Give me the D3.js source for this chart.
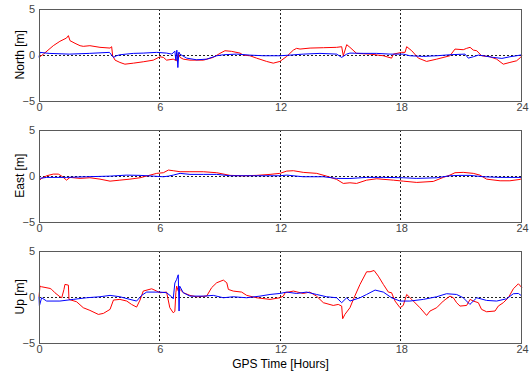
<!DOCTYPE html>
<html><head><meta charset="utf-8">
<script src="https://cdn.jsdelivr.net/npm/d3@7"></script>
<style>body{margin:0;background:#fff}svg{display:block}</style></head>
<body><svg id="c" width="529" height="372"></svg>
<script>
const panelLabels = ["North [m]", "East [m]", "Up [m]"];
const xTicks = [0, 6, 12, 18, 24];
const yTicks = [-5, 0, 5];
const xTitle = "GPS Time [Hours]";

// North
const northRedT = [0,0.22,0.71,1.04,1.37,1.46,1.54,1.79,2.04,2.2,2.53,3.03,3.53,3.61,3.66,3.78,4.02,4.27,4.69,5.18,5.68,6.01,6.18,6.34,6.67,6.84,6.92,7.01,7.17,7.5,8.17,8.66,8.99,9.24,9.57,9.99,10.15,10.48,10.81,11.31,11.64,11.97,12.31,12.64,12.8,12.97,13.47,14.13,14.79,15.04,15.12,15.29,15.45,15.78,16.45,17.11,17.52,17.61,18.02,18.19,18.27,18.52,18.85,19.26,19.76,20.42,20.67,21.08,21.25,21.42,21.58,21.75,21.99,22.41,22.74,23.07,23.4,23.73,23.93,24];
const northRedV = [-0.29,0.07,0.99,1.47,1.83,2.09,1.54,1.25,0.99,0.92,0.99,0.81,0.73,0.88,-0.11,-0.59,-0.84,-1.03,-0.92,-0.77,-0.59,-0.22,-0.29,-0.59,-0.48,-0.66,0.15,-0.29,-0.48,-0.59,-0.59,-0.29,0.15,0.44,0.37,0.18,-0.04,-0.11,-0.37,-0.73,-0.92,-0.73,-0.18,0.51,0.7,0.62,0.73,0.77,0.81,0.88,-0.11,1.1,0.81,0.15,0.07,-0.11,-0.37,0.07,0.26,0.26,0.88,0.44,-0.37,-0.73,-0.48,-0.11,0.62,0.55,0.7,0.81,0.51,0.44,-0.11,-0.22,-0.48,-1.03,-0.84,-0.66,-0.29,-0.11];
const northBlueT = [0,0.05,0.5,1.5,2.5,3.5,3.7,3.85,4.02,4.69,5.18,5.85,6.34,6.6,6.75,6.8,6.85,6.9,6.95,7.0,7.34,7.83,8.33,8.83,9.16,9.82,10.48,11.15,11.97,12.47,13.13,13.96,14.79,15.04,15.29,15.45,16.11,16.78,17.44,18.1,18.43,19.1,19.76,20.42,21.17,21.33,21.58,21.83,22.08,22.57,23.0,23.4,23.73,24];
const northBlueV = [-0.29,0.26,0.15,0.07,0.15,0.26,-0.29,-0.11,0,0.15,0.18,0.26,0.18,0.07,0.4,-0.6,0.5,-1.4,0.3,0.07,-0.37,-0.55,-0.48,-0.11,0,0.07,-0.04,-0.11,-0.11,-0.04,0.07,0.15,0.07,-0.29,0.07,0.18,0.15,0.15,0.07,0.07,-0.11,-0.18,-0.11,0,0.07,-0.37,-0.22,-0.04,-0.11,-0.29,-0.4,-0.22,-0.11,0];

// East
const eastRedT = [0,0.13,0.38,0.71,0.96,1.13,1.37,1.54,2.04,2.53,3.03,3.53,4.02,4.52,5.02,5.52,5.85,6.18,6.43,6.67,7.01,7.5,8.17,8.83,9.49,10.15,10.81,11.48,11.97,12.31,12.64,13.13,13.8,14.29,14.79,15.12,15.45,15.78,16.28,16.78,17.61,18.1,18.77,19.59,20.09,20.42,20.67,21.08,21.58,21.91,22.24,22.91,23.4,23.9,24];
const eastRedV = [-0.55,-0.29,0,0.18,0.18,-0.04,-0.48,-0.18,-0.29,-0.22,-0.37,-0.59,-0.48,-0.37,-0.22,0.07,0.26,0.33,0.62,0.55,0.44,0.44,0.44,0.33,0.04,0,0.04,0.15,0.26,0.51,0.55,0.37,0.26,-0.04,-0.4,-0.84,-0.77,-0.84,-0.48,-0.33,-0.48,-0.59,-0.73,-0.62,-0.18,0.07,0.33,0.37,0.26,0.07,-0.37,-0.55,-0.55,-0.4,-0.3];
const eastBlueT = [0,0.38,1.37,2.36,3.53,4.36,5.02,5.68,6.18,6.43,6.67,7.01,7.5,8.17,8.83,9.49,10.65,11.97,12.31,13.13,14.13,14.79,15.45,16.28,17.11,18.1,18.77,19.76,20.42,20.92,21.42,22.08,22.91,24];
const eastBlueV = [-0.29,-0.18,-0.18,-0.11,-0.04,0.07,0.04,-0.04,-0.11,-0.04,0.07,0.26,0.15,0.15,0.15,0,0,0,0.07,-0.11,-0.11,-0.29,-0.3,-0.18,-0.18,-0.22,-0.29,-0.22,0,0.04,0.04,-0.11,-0.18,-0.18];

// Up
const upRedT = [0,0.05,0.13,0.55,0.63,0.79,1.04,1.13,1.24,1.29,1.46,1.49,1.87,2.2,2.53,2.95,3.2,3.53,3.7,4.02,4.36,4.6,4.85,5.02,5.18,5.6,5.85,6.01,6.34,6.5,6.67,6.75,6.8,6.84,6.92,7.01,7.17,7.5,7.83,8.33,8.58,8.83,9.16,9.33,9.41,9.65,10.07,10.32,10.81,11.48,11.97,12.14,12.23,12.64,13.13,13.45,13.79,14.13,14.62,14.87,15.04,15.09,15.2,15.45,15.62,15.95,16.28,16.45,16.65,16.86,17.11,17.36,17.52,17.69,17.94,18.1,18.27,18.52,18.93,19.26,19.43,19.76,20.09,20.42,20.59,20.75,20.92,21.25,21.42,21.58,21.83,21.99,22.24,22.66,22.82,23.07,23.32,23.57,23.82,24];
const upRedV = [0,1.16,1.09,0.91,0.8,0.44,0,-0.11,0.8,1.35,1.27,-0.29,-0.55,-1.2,-1.49,-1.93,-1.82,-1.38,-0.36,-0.29,-0.47,-0.84,-1.13,-0.36,0.62,0.87,0.62,0.44,0.51,-1.2,-1.75,-1.6,0.44,1.16,0.62,0.8,0.44,0.15,0,0.07,1.0,1.53,1.82,1.53,0.8,0.62,0.51,0.15,-0.11,-0.29,-0.11,0.07,0.44,0.62,0.36,0.51,0.07,-0.65,-0.95,-0.84,-1.02,-2.4,-1.93,-1.2,-0.29,1.35,2.73,2.73,2.87,2.25,1.35,0.51,0.44,-0.47,-1.2,-0.95,0.25,-0.29,-1.2,-2.04,-1.56,-1.2,-0.47,0.07,-0.11,-0.65,-1.02,-0.95,-0.29,-0.47,-0.65,-1.38,-1.64,-1.56,-1.02,-0.65,-0.11,0.87,1.42,0.98];
const upBlueT = [0,0.02,0.13,0.38,1.04,1.7,2.36,3.03,3.53,4.02,4.52,4.85,5.1,5.35,6.01,6.34,6.59,6.67,6.75,6.84,6.92,6.96,6.99,7.17,7.5,8.17,8.66,9.16,9.65,10.32,10.98,11.48,11.97,12.31,12.8,13.3,13.79,14.29,14.79,15.04,15.29,15.45,15.95,16.28,16.7,17.11,17.52,17.94,18.43,19.1,19.76,20.25,20.75,21.08,21.41,21.75,22.24,22.74,23.24,23.57,23.82,24];
const upBlueV = [0,-1.0,-0.11,-0.47,-0.47,-0.29,-0.11,0,0.15,0,-0.29,-0.47,0.15,0.51,0.51,0.44,0,-0.22,1.5,1.9,2.4,-1.56,1.16,0.44,0.07,0.07,0.15,-0.11,0,-0.11,0.07,0.25,0.36,0.51,0.36,0.51,0.25,0,-0.11,-0.65,-0.11,-0.47,-0.11,0.25,0.73,0.51,-0.11,-0.47,-0.47,-0.29,0,0.33,0.25,-0.11,-0.84,-0.11,-0.4,-0.47,-0.22,0.33,0.36,0.07];

const series = [
  [[northRedT, northRedV], [northBlueT, northBlueV]],
  [[eastRedT, eastRedV], [eastBlueT, eastBlueV]],
  [[upRedT, upRedV], [upBlueT, upBlueV]]
];
const colors = ["#ff0000", "#0000ff"];

const svg = d3.select("#c");
const left = 39, right = 522, h = 91.5;
const tops = [9, 130, 251];
const x = d3.scaleLinear().domain([0, 24]).range([left, right]);
const font = "'Liberation Sans', Arial, sans-serif";

tops.forEach((top, i) => {
  const y = d3.scaleLinear().domain([-5, 5]).range([top + h, top]);
  const g = svg.append("g");
  g.append("rect").attr("x", left).attr("y", top).attr("width", right - left).attr("height", h)
    .attr("fill", "#fff");
  // grid
  g.selectAll(".vg").data(xTicks.filter(t => t > 0)).join("line")
    .attr("x1", d => Math.round(x(d)) - 0.5).attr("x2", d => Math.round(x(d)) - 0.5)
    .attr("y1", top).attr("y2", top + h)
    .attr("stroke", "#222").attr("stroke-width", 1).attr("stroke-dasharray", "2,2");
  g.append("line").attr("x1", left).attr("x2", right)
    .attr("y1", Math.round(y(0)) + 0.5).attr("y2", Math.round(y(0)) + 0.5)
    .attr("stroke", "#222").attr("stroke-width", 1).attr("stroke-dasharray", "2,2");
  // lines
  series[i].forEach((s, k) => {
    const pts = s[0].map((t, j) => [t, s[1][j]]);
    g.append("path").datum(pts)
      .attr("d", d3.line().x(d => x(d[0])).y(d => y(d[1])))
      .attr("fill", "none").attr("stroke", colors[k]).attr("stroke-width", 1)
      .attr("stroke-linejoin", "round");
  });
  // box
  g.append("rect").attr("x", left + 0.5).attr("y", Math.round(top) + 0.5)
    .attr("width", right - left - 1).attr("height", Math.round(h))
    .attr("fill", "none").attr("stroke", "#5a5a5a").attr("stroke-width", 1);
  // axes labels
  const ay = g.append("g").attr("transform", `translate(${left},0)`)
    .call(d3.axisLeft(y).tickValues(yTicks).tickSize(0).tickPadding(4).tickFormat(d3.format("d")));
  ay.select(".domain").remove();
  ay.selectAll("text").attr("font-family", font).attr("font-size", 11).attr("fill", "#444");
  const ax = g.append("g").attr("transform", `translate(0,${top + h})`)
    .call(d3.axisBottom(x).tickValues(xTicks).tickSize(0).tickPadding(3).tickFormat(d3.format("d")));
  ax.select(".domain").remove();
  ax.selectAll("text").attr("font-family", font).attr("font-size", 11).attr("fill", "#444");
  // y title
  svg.append("text").attr("transform", `translate(24,${top + h / 2}) rotate(-90)`)
    .attr("text-anchor", "middle").attr("font-family", font).attr("font-size", 12)
    .attr("fill", "#000").text(panelLabels[i]);
});

svg.append("text").attr("x", (left + right) / 2).attr("y", 368)
  .attr("text-anchor", "middle").attr("font-family", font).attr("font-size", 12)
  .attr("fill", "#000").text(xTitle);
</script>
</body></html>
